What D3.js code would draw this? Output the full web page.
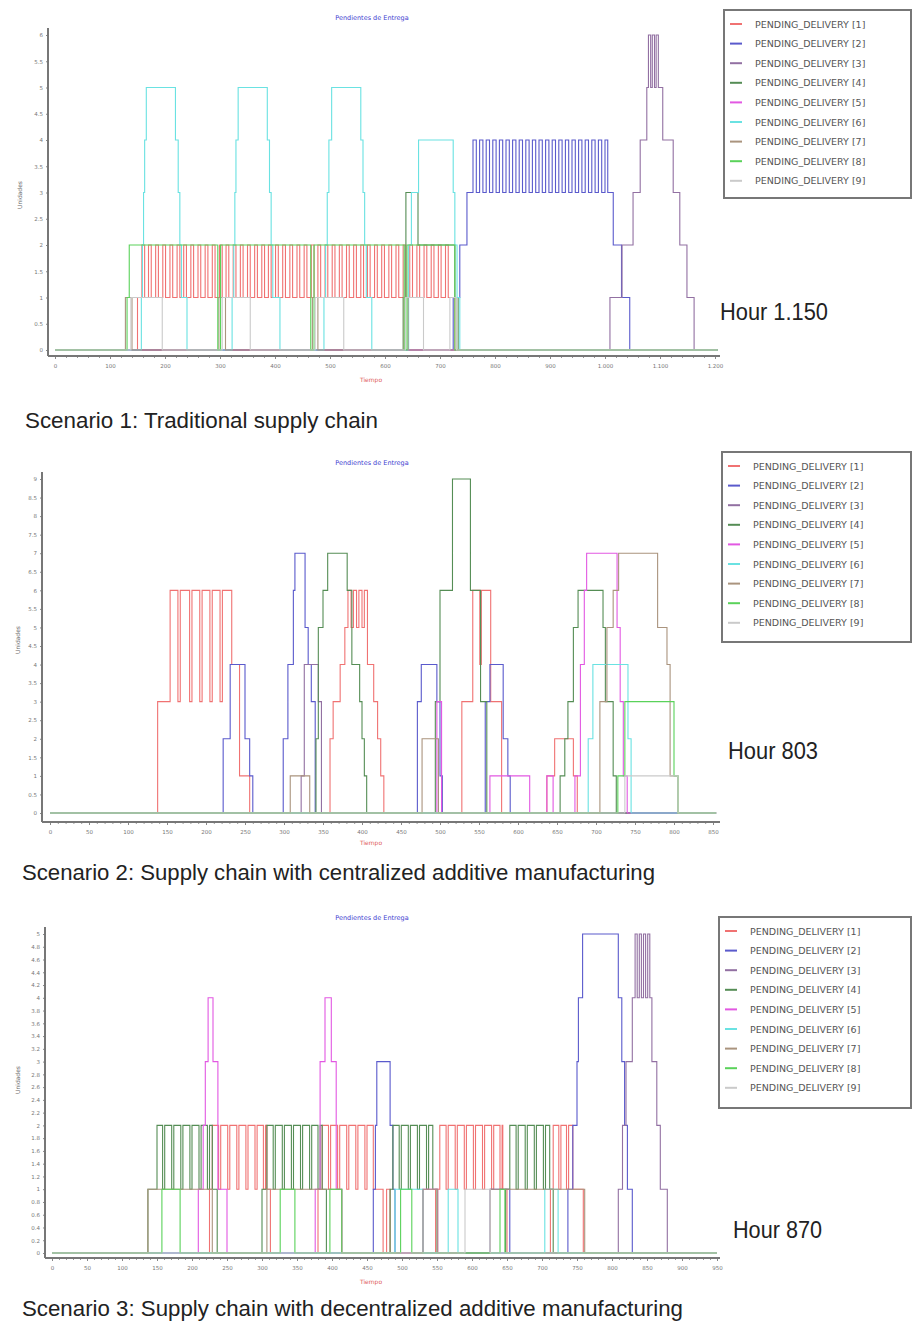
<!DOCTYPE html>
<html>
<head>
<meta charset="utf-8">
<script src="https://cdn.jsdelivr.net/npm/d3@7"></script>
<style>
  body { margin: 0; background: #fff; }
  svg { display: block; }
</style>
</head>
<body>
<script>
"use strict"

const seriesNames = ["PENDING_DELIVERY [1]", "PENDING_DELIVERY [2]", "PENDING_DELIVERY [3]",
  "PENDING_DELIVERY [4]", "PENDING_DELIVERY [5]", "PENDING_DELIVERY [6]",
  "PENDING_DELIVERY [7]", "PENDING_DELIVERY [8]", "PENDING_DELIVERY [9]"];
const seriesColors = ["#f07272", "#5a5acc", "#9270a2", "#558d55", "#e258e2",
  "#6ae2e2", "#aa947e", "#5ad25a", "#cacaca"];

// ---- scenario 1 : traditional ----
const c1XTicks = [0, 100, 200, 300, 400, 500, 600, 700, 800, 900, 1000, 1100, 1200];
const c1YTicks = [0, 0.5, 1, 1.5, 2, 2.5, 3, 3.5, 4, 4.5, 5, 5.5, 6];
const c1S1 = [[0,0],[150,1],
  [158,2],[163,1],[170,2],[175,1],[183,2],[188,1],[196,2],[201,1],[209,2],[214,1],[222,2],[227,1],
  [234,2],[239,1],[247,2],[252,1],[260,2],[265,1],[273,2],[278,1],[286,2],[291,1],[299,2],[304,1],
  [311,2],[316,1],[324,2],[329,1],[337,2],[342,1],[350,2],[355,1],[363,2],[368,1],[376,2],[381,1],
  [388,2],[393,1],[401,2],[406,1],[414,2],[419,1],[427,2],[432,1],[440,2],[445,1],[453,2],[458,1],
  [466,2],[471,1],[478,2],[483,1],[491,2],[496,1],[504,2],[509,1],[517,2],[522,1],[530,2],[535,1],
  [543,2],[548,1],[556,2],[561,1],[568,2],[573,1],[581,2],[586,1],[594,2],[599,1],[607,2],[612,1],
  [620,2],[625,1],[633,2],[638,1],[645,2],[650,1],[658,2],[663,1],[671,2],[676,1],[684,2],[689,1],
  [697,2],[702,1],[710,2],[715,1],[727,0]];
const c1S2 = [[0,0],[724,1],[736,2],[749,3],[760,4],
  [766,3],[772,4],[778,3],[784,4],[790,3],[796,4],[802,3],[808,4],[814,3],[820,4],[826,3],[832,4],
  [838,3],[844,4],[850,3],[856,4],[862,3],[868,4],[874,3],[880,4],[886,3],[892,4],[898,3],[904,4],
  [910,3],[916,4],[922,3],[928,4],[934,3],[940,4],[946,3],[952,4],[958,3],[964,4],[970,3],[976,4],
  [982,3],[988,4],[994,3],[1000,4],[1005,3],[1015,2],[1030,1],[1045,0]];
const c1S3 = [[0,0],[1009,1],[1031,2],[1051,3],[1064,4],[1076,5],[1079,6],[1083,5],[1086,6],
  [1090,5],[1093,6],[1097,5],[1105,4],[1124,3],[1136,2],[1149,1],[1162,0]];
const c1S4 = [[0,0],[633,1],[638,3],[660,2],[727,1],[733,0]];
const c1S5 = [[0,0]];
const c1S6 = [[0,0],
  [157,1],[159,2],[161,3],[163,4],[166,5],[219,4],[224,3],[227,2],[230,1],[240,0],
  [322,1],[325,2],[327,3],[329,4],[333,5],[386,4],[390,3],[393,2],[396,1],[409,0],
  [489,1],[492,2],[495,3],[498,4],[503,5],[556,4],[560,3],[563,2],[566,1],[576,0],
  [643,2],[648,3],[661,4],[724,3],[727,2],[731,1],[736,0]];
const c1S7 = [[0,0],[128,1],[140,0],[298,1],[310,0],[468,1],[478,0],[634,1],[642,0]];
const c1S8 = [[0,0],[131,1],[135,2],[296,0],[301,2],[465,0],[471,2],[635,0],[640,2],[727,0]];
const c1S9 = [[0,0],[138,1],[195,0],[304,1],[355,0],[473,1],[525,0],[637,1],[670,0],[718,1],[730,0]];

// ---- scenario 2 : centralized AM ----
const c2XTicks = [0, 50, 100, 150, 200, 250, 300, 350, 400, 450, 500, 550, 600, 650, 700, 750, 800, 850];
const c2YTicks = [0, 0.5, 1, 1.5, 2, 2.5, 3, 3.5, 4, 4.5, 5, 5.5, 6, 6.5, 7, 7.5, 8, 8.5, 9];
const c2S1 = [[0,0],[138,3],[154,6],[164,3],[167,6],[179,3],[182,6],[192,3],[195,6],[205,3],[208,6],
  [218,3],[221,6],[233,4],[243,1],[256,0],
  [359,2],[363,3],[372,4],[378,5],[382,6],[386,5],[389,6],[393,5],[396,6],[400,5],[403,6],
  [407,4],[415,3],[420,2],[424,1],[428,0],
  [528,3],[542,6],[551,4],[553,6],[565,3],[579,0],
  [637,1],[647,2],[671,1],[676,0]];
const c2S2 = [[0,0],[222,2],[231,4],[250,2],[256,1],[260,0],
  [299,2],[305,4],[312,6],[314,7],[327,5],[331,4],[335,3],[340,0],
  [471,3],[476,4],[496,3],[500,1],[503,0],
  [558,3],[564,4],[581,2],[587,1],[590,0]];
const c2S3 = [[0,0],[322,1],[326,4],[344,3],[348,0]];
const c2S4 = [[0,0],[341,2],[344,5],[350,6],[356,7],[381,6],[387,4],[397,3],[400,2],[403,1],[406,0],
  [494,3],[500,6],[516,9],[539,6],[552,3],[560,0],
  [654,1],[660,2],[664,3],[671,5],[677,6],[709,5],[712,3],[722,1],[726,0]];
const c2S5 = [[0,0],[496,3],[502,0],[564,1],[615,0],[637,1],[645,0],
  [673,1],[680,4],[685,6],[688,7],[727,5],[731,3],[735,1],[740,0]];
const c2S6 = [[0,0],[690,2],[696,4],[741,2],[745,0]];
const c2S7 = [[0,0],[308,1],[333,0],[477,2],[498,0],
  [705,3],[714,5],[722,6],[729,7],[779,5],[791,4],[795,1],[805,0]];
const c2S8 = [[0,0],[728,1],[737,3],[800,1],[805,0]];
const c2S9 = [[0,0],[737,1],[805,0]];

// ---- scenario 3 : decentralized AM ----
const c3XTicks = [0, 50, 100, 150, 200, 250, 300, 350, 400, 450, 500, 550, 600, 650, 700, 750, 800, 850, 900, 950];
const c3YTicks = [0, 0.2, 0.4, 0.6, 0.8, 1, 1.2, 1.4, 1.6, 1.8, 2, 2.2, 2.4, 2.6, 2.8, 3,
  3.2, 3.4, 3.6, 3.8, 4, 4.2, 4.4, 4.6, 4.8, 5];
const c3S1 = [[0,0],[225,1],[229,2],
  [238,1],[241,2],[251,1],[254,2],[264,1],[267,2],[277,1],[280,2],[290,1],[293,2],[302,1],[305,2],
  [307,1],[312,0],
  [380,1],[386,2],[395,1],[398,2],[408,1],[411,2],[421,1],[424,2],[434,1],[437,2],[447,1],[450,2],
  [459,1],[473,0],[478,1],[483,0],
  [548,1],[554,2],[563,1],[566,2],[576,1],[579,2],[589,1],[592,2],[602,1],[605,2],[615,1],[618,2],
  [628,1],[631,2],[640,1],[643,2],[644,1],[650,0],
  [712,1],[716,2],[724,1],[727,2],[735,1],[738,2],[744,1],[759,0]];
const c3S2 = [[0,0],[459,1],[462,2],[464,3],[483,2],[487,1],[490,0],[626,1],[654,0],
  [737,1],[744,2],[750,3],[752,4],[758,5],[809,4],[814,3],[818,2],[822,1],[829,0]];
const c3S3 = [[0,0],[809,1],[815,2],[820,3],[829,4],[833,5],[836,4],[839,5],[842,4],[845,5],
  [848,4],[851,5],[854,4],[857,3],[864,2],[869,1],[879,0]];
const c3S4 = [[0,0],[137,1],[150,2],
  [158,1],[161,2],[171,1],[174,2],[184,1],[187,2],[197,1],[200,2],[210,1],[213,2],[222,1],[225,2],
  [229,1],[236,0],
  [300,1],[307,2],[316,1],[319,2],[329,1],[332,2],[342,1],[345,2],[355,1],[358,2],[368,1],[371,2],
  [380,1],[383,2],[386,1],[392,0],
  [483,1],[487,2],[496,1],[499,2],[509,1],[512,2],[522,1],[525,2],[535,1],[538,2],[544,1],[550,0],
  [648,1],[654,2],[663,1],[666,2],[676,1],[679,2],[689,1],[692,2],[702,1],[705,2],[711,1],[716,0]];
const c3S5 = [[0,0],[209,1],[216,2],[219,3],[223,4],[230,3],[237,1],[250,0],
  [376,1],[383,3],[390,4],[399,3],[406,1],[414,0],[530,1],[551,0]];
const c3S6 = [[0,0],[490,1],[530,0],[566,1],[580,0],[704,1],[723,0]];
const c3S7 = [[0,0],[137,1],[229,0],[307,1],[414,0],[530,1],[551,0],[626,1],[761,0]];
const c3S8 = [[0,0],[157,1],[183,0],[326,1],[347,0],[397,1],[414,0],[498,1],[514,0],[640,1],[647,0]];
const c3S9 = [[0,0],[590,1],[626,0]];

const svg = d3.select("body").append("svg")
  .attr("width", 913)
  .attr("height", 1324);

const charts = [
  {
    series: [c1S1, c1S2, c1S3, c1S4, c1S5, c1S6, c1S7, c1S8, c1S9],
    xTicks: c1XTicks, yTicks: c1YTicks, xMax: 1200, xEnd: 1205, yMax: 6, minor: 20,
    x0: 55, x1: 715, yBase: 350, yTop: 35, axisX: 48, axisY: 356, axisTop: 28, axisRight: 720,
    titleY: 20, tiempoY: 382, unidadesX: 22, unidadesY: 195,
    legend: [724, 10, 187, 188],
    hour: "Hour 1.150", hourX: 720, hourY: 320, hourW: 108,
    scenario: "Scenario 1: Traditional supply chain", scX: 25, scY: 428, scW: 353
  },
  {
    series: [c2S1, c2S2, c2S3, c2S4, c2S5, c2S6, c2S7, c2S8, c2S9],
    xTicks: c2XTicks, yTicks: c2YTicks, xMax: 850, xEnd: 854, yMax: 9, minor: 10,
    x0: 50, x1: 713, yBase: 813, yTop: 479, axisX: 42, axisY: 822, axisTop: 472, axisRight: 720,
    titleY: 465, tiempoY: 845, unidadesX: 20, unidadesY: 640,
    legend: [722, 452, 189, 190],
    hour: "Hour 803", hourX: 728, hourY: 759, hourW: 90,
    scenario: "Scenario 2: Supply chain with centralized additive manufacturing", scX: 22, scY: 880, scW: 633
  },
  {
    series: [c3S1, c3S2, c3S3, c3S4, c3S5, c3S6, c3S7, c3S8, c3S9],
    xTicks: c3XTicks, yTicks: c3YTicks, xMax: 950, xEnd: 950, yMax: 5, minor: 10,
    x0: 52, x1: 717, yBase: 1253, yTop: 934, axisX: 45, axisY: 1258, axisTop: 927, axisRight: 720,
    titleY: 920, tiempoY: 1284, unidadesX: 20, unidadesY: 1080,
    legend: [719, 917, 192, 191],
    hour: "Hour 870", hourX: 733, hourY: 1238, hourW: 89,
    scenario: "Scenario 3: Supply chain with decentralized additive manufacturing", scX: 22, scY: 1316, scW: 661
  }
];

function fmtX(v) {
  return d3.format(",")(v).replace(",", ".");
}

function drawChart(cfg) {
  const g = svg.append("g");
  const x = d3.scaleLinear().domain([0, cfg.xMax]).range([cfg.x0, cfg.x1]);
  const y = d3.scaleLinear().domain([0, cfg.yMax]).range([cfg.yBase, cfg.yTop]);

  // minor ticks under the x axis
  const minorTicks = d3.range(0, cfg.xMax + 0.001, cfg.minor);
  g.append("g")
    .attr("transform", `translate(0,${cfg.axisY})`)
    .call(d3.axisBottom(x).tickValues(minorTicks).tickSize(2).tickFormat(""))
    .call(a => a.select(".domain").remove())
    .call(a => a.selectAll("line").attr("stroke", "#999"));

  const xAxis = g.append("g")
    .attr("transform", `translate(0,${cfg.axisY})`)
    .call(d3.axisBottom(x).tickValues(cfg.xTicks).tickSize(3).tickPadding(5).tickFormat(fmtX));
  xAxis.select(".domain").remove();
  xAxis.selectAll("line").attr("stroke", "#888");
  xAxis.selectAll("text").attr("fill", "#777").style("font", "5.5px 'DejaVu Sans'");

  const yAxis = g.append("g")
    .attr("transform", `translate(${cfg.axisX},0)`)
    .call(d3.axisLeft(y).tickValues(cfg.yTicks).tickSize(2).tickPadding(3).tickFormat(d => String(+d.toFixed(1))));
  yAxis.select(".domain").remove();
  yAxis.selectAll("line").attr("stroke", "#888");
  yAxis.selectAll("text").attr("fill", "#777").style("font", "5.5px 'DejaVu Sans'");

  // axis lines
  g.append("line").attr("x1", cfg.axisX).attr("x2", cfg.axisX)
    .attr("y1", cfg.axisTop).attr("y2", cfg.axisY)
    .attr("stroke", "#777").attr("stroke-width", 2);
  g.append("line").attr("x1", cfg.axisX).attr("x2", cfg.axisRight)
    .attr("y1", cfg.axisY).attr("y2", cfg.axisY)
    .attr("stroke", "#777").attr("stroke-width", 2);

  // step lines
  const line = d3.line()
    .x(d => x(d[0]))
    .y(d => y(d[1]))
    .curve(d3.curveStepAfter);
  cfg.series.forEach((s, i) => {
    const pts = s.concat([[cfg.xEnd, s[s.length - 1][1]]]);
    g.append("path")
      .attr("d", line(pts))
      .attr("fill", "none")
      .attr("stroke", seriesColors[i])
      .attr("stroke-width", 1.1);
  });

  // small labels
  g.append("text").attr("x", 372).attr("y", cfg.titleY)
    .attr("text-anchor", "middle").attr("fill", "#4040d0")
    .style("font", "6.5px 'DejaVu Sans'").text("Pendientes de Entrega");
  g.append("text").attr("x", 371).attr("y", cfg.tiempoY)
    .attr("text-anchor", "middle").attr("fill", "#e06060")
    .style("font", "6px 'DejaVu Sans'").text("Tiempo");
  g.append("text")
    .attr("transform", `translate(${cfg.unidadesX},${cfg.unidadesY}) rotate(-90)`)
    .attr("text-anchor", "middle").attr("fill", "#666")
    .style("font", "6px 'DejaVu Sans'").text("Unidades");

  // legend
  const [lx, ly, lw, lh] = cfg.legend;
  const leg = g.append("g").attr("transform", `translate(${lx},${ly})`);
  leg.append("rect").attr("x", 0).attr("y", 0).attr("width", lw).attr("height", lh)
    .attr("fill", "#fff").attr("stroke", "#777").attr("stroke-width", 2);
  seriesNames.forEach((name, i) => {
    const ry = 14 + i * 19.6;
    leg.append("line").attr("x1", 6).attr("x2", 18).attr("y1", ry).attr("y2", ry)
      .attr("stroke", seriesColors[i]).attr("stroke-width", 2);
    leg.append("text").attr("x", 31).attr("y", ry + 3.5)
      .attr("fill", "#555").style("font", "9.5px 'DejaVu Sans'").text(name);
  });

  // annotations
  g.append("text").attr("x", cfg.hourX).attr("y", cfg.hourY)
    .attr("textLength", cfg.hourW).attr("lengthAdjust", "spacingAndGlyphs")
    .attr("fill", "#222").style("font", "24px 'Liberation Sans', Arial, sans-serif").text(cfg.hour);
  g.append("text").attr("x", cfg.scX).attr("y", cfg.scY)
    .attr("textLength", cfg.scW).attr("lengthAdjust", "spacingAndGlyphs")
    .attr("fill", "#222").style("font", "22px 'Liberation Sans', Arial, sans-serif").text(cfg.scenario);
}

charts.forEach(drawChart);
</script>
</body>
</html>
